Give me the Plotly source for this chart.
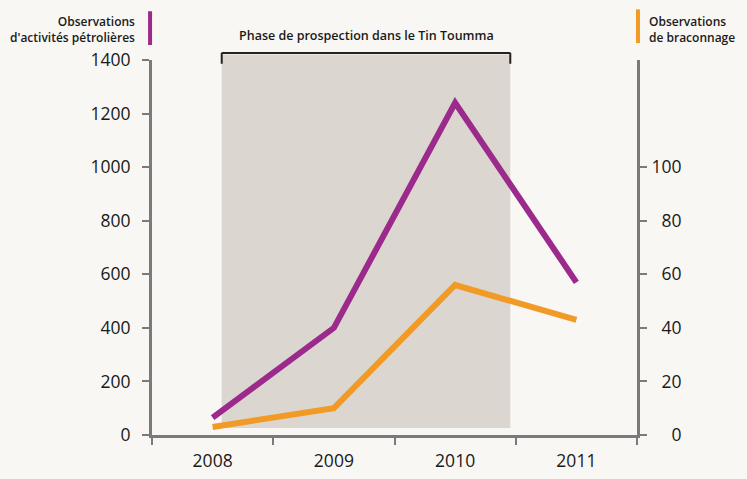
import plotly.graph_objects as go

# Data
years = ["2008", "2009", "2010", "2011"]
petrole = [65, 400, 1240, 570]          # observations d'activités pétrolières (left axis)
braconnage = [3, 10, 56, 43]            # observations de braconnage (right axis)

left_ticks = [0, 200, 400, 600, 800, 1000, 1200, 1400]
right_ticks = [0, 20, 40, 60, 80, 100]

PURPLE = "#9c2a8c"
ORANGE = "#f29a26"
AXIS = "#7b7979"
TEXT = "#1a1a1a"
BG = "#f8f7f3"
SHADE = "#dbd6d0"
FONT = "Open Sans"

fig = go.Figure()
fig.add_trace(go.Scatter(x=years, y=petrole, mode="lines",
                         line=dict(color=PURPLE, width=6), yaxis="y"))
fig.add_trace(go.Scatter(x=years, y=braconnage, mode="lines",
                         line=dict(color=ORANGE, width=6), yaxis="y2"))

# Prospection phase: shaded band plus bracket above it
x_start, x_end = 0.075, 2.455
fig.add_shape(type="rect", xref="x", yref="paper", x0=x_start, x1=x_end,
              y0=0.019, y1=1.015, fillcolor=SHADE, line=dict(width=0), layer="below")
bracket = dict(color="#222222", width=2)
fig.add_shape(type="line", xref="x", yref="paper", x0=x_start, x1=x_end,
              y0=1.019, y1=1.019, line=bracket)
fig.add_shape(type="line", xref="x", yref="paper", x0=x_start, x1=x_start,
              y0=1.019, y1=0.99, line=bracket)
fig.add_shape(type="line", xref="x", yref="paper", x0=x_end, x1=x_end,
              y0=1.019, y1=0.99, line=bracket)

labelfont = dict(family=FONT, size=12.5, color=TEXT, weight=600)
fig.add_annotation(text="Phase de prospection dans le Tin Toumma",
                   xref="x", yref="paper", x=(x_start + x_end) / 2, y=1.064,
                   showarrow=False, font=dict(family=FONT, size=12.5, color=TEXT, weight=600),
                   xanchor="center", yanchor="middle")

# Series labels with colour bars
fig.add_annotation(text="Observations<br>d'activités pétrolières",
                   xref="paper", yref="paper", x=-0.03, y=1.08,
                   showarrow=False, align="right", xanchor="right", yanchor="middle",
                   font=dict(family=FONT, size=12, color=TEXT, weight=600))
fig.add_shape(type="line", xref="paper", yref="paper", x0=-0.004, x1=-0.004,
              y0=1.04, y1=1.13, line=dict(color=PURPLE, width=4))
fig.add_annotation(text="Observations<br>de braconnage",
                   xref="paper", yref="paper", x=1.02, y=1.08,
                   showarrow=False, align="left", xanchor="left", yanchor="middle",
                   font=dict(family=FONT, size=12, color=TEXT, weight=600))
fig.add_shape(type="line", xref="paper", yref="paper", x0=1.002, x1=1.002,
              y0=1.045, y1=1.135, line=dict(color=ORANGE, width=4))

tickfont = dict(family=FONT, size=17.5, color=TEXT)
common = dict(showline=True, linecolor=AXIS, linewidth=3,
              ticks="outside", ticklen=7, tickwidth=2, tickcolor=AXIS,
              showgrid=False, zeroline=False, tickfont=tickfont, automargin=False)
fig.update_layout(
    width=747, height=479,
    margin=dict(l=152, r=110, t=60, b=44),
    paper_bgcolor=BG, plot_bgcolor=BG,
    showlegend=False,
    xaxis=dict(type="category", range=[-0.5, 3.5], tickson="boundaries",
               ticklabelstandoff=8, **common),
    yaxis=dict(range=[0, 1400], tickvals=left_ticks,
               ticklabelstandoff=8, **common),
    yaxis2=dict(range=[0, 140], tickvals=right_ticks,
                ticktext=["\u2007\u20070", "\u200720", "\u200740", "\u200760", "\u200780", "100"],
                overlaying="y", side="right",
                ticklabelstandoff=1, **common),
)

fig.write_html("out.html")
